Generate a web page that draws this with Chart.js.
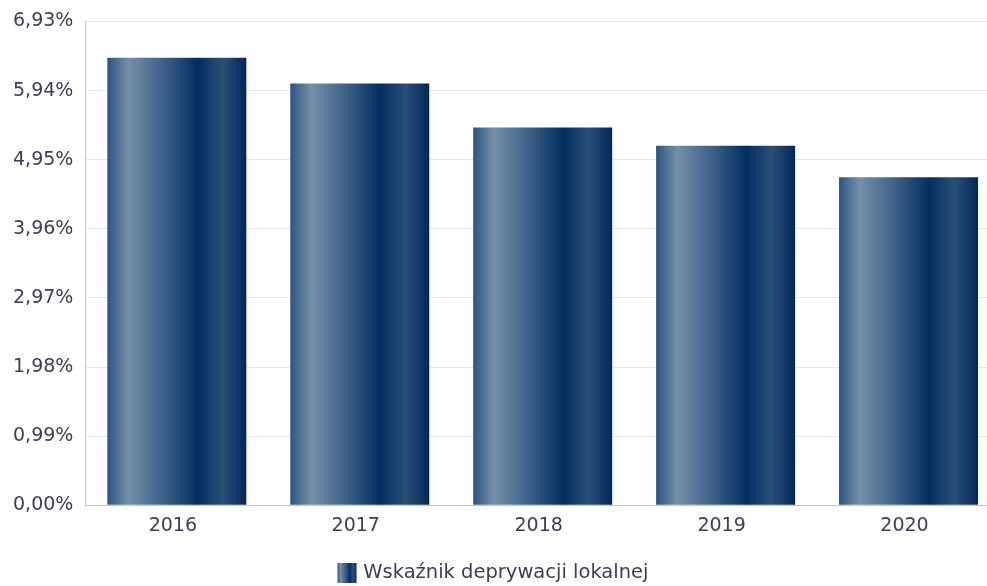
<!DOCTYPE html>
<html>
<head>
<meta charset="utf-8">
<script src="https://cdn.jsdelivr.net/npm/chart.js@4/dist/chart.umd.min.js"></script>
<style>
  html, body { margin: 0; padding: 0; background: #ffffff; overflow: hidden; }
  #wrap { width: 1000px; height: 586px; position: relative; }
</style>
</head>
<body>
<div id="wrap"><canvas id="c"></canvas></div>
<script>
const categories = ['2016', '2017', '2018', '2019', '2020'];
const seriesName = 'Wskaźnik deprywacji lokalnej';
const seriesValues = [6.41, 6.04, 5.41, 5.15, 4.70];
const yTicks = [0, 0.99, 1.98, 2.97, 3.96, 4.95, 5.94, 6.93];

const TEXT = '#3d3d56';
const FONT = 'DejaVu Sans';
const BAR_FRACTION = 0.76;

function makeGradient(c, x0, x1) {
  const g = c.createLinearGradient(x0, 0, x1, 0);
  g.addColorStop(0.00, '#2c5580');
  g.addColorStop(0.15, '#7590a8');
  g.addColorStop(0.40, '#3e6189');
  g.addColorStop(0.65, '#022f60');
  g.addColorStop(0.83, '#2a5077');
  g.addColorStop(1.00, '#03275a');
  return g;
}

function barColor(ctx) {
  const chart = ctx.chart;
  const xs = chart.scales.x;
  if (ctx.type !== 'data' || !xs || !chart.chartArea) return '#1f4a78';
  const center = xs.getPixelForValue(ctx.dataIndex);
  const w = xs.width / categories.length * BAR_FRACTION;
  return makeGradient(chart.ctx, center - w / 2, center + w / 2);
}

const legendShiftPlugin = {
  id: 'legendShift',
  afterLayout(chart) {
    const lg = chart.legend;
    if (!lg) return;
    const dx = -9, dy = 7;
    lg.left += dx; lg.right += dx;
    lg.top += dy; lg.bottom += dy;
  }
};

const BOX_SHIFT = 3;
const legendBoxPlugin = {
  id: 'legendBox',
  afterDraw(chart) {
    const lg = chart.legend;
    if (!lg || !lg.legendHitBoxes || !lg.legendHitBoxes.length) return;
    const hb = lg.legendHitBoxes[0];
    const opts = lg.options.labels;
    const bw = opts.boxWidth, bh = opts.boxHeight;
    const fs = opts.font.size;
    const top = hb.top + Math.max((fs - bh) / 2, 0);
    const x0 = hb.left + BOX_SHIFT;
    const c = chart.ctx;
    c.save();
    c.fillStyle = makeGradient(c, x0, x0 + bw);
    c.fillRect(x0, top, bw, bh);
    c.restore();
  }
};

new Chart(document.getElementById('c'), {
  type: 'bar',
  data: {
    labels: categories,
    datasets: [{
      label: seriesName,
      data: seriesValues,
      backgroundColor: barColor,
      borderWidth: 0,
      barPercentage: 1,
      categoryPercentage: BAR_FRACTION
    }]
  },
  options: {
    responsive: true,
    maintainAspectRatio: false,
    animation: false,
    layout: { padding: { left: 1, right: 0, top: 6, bottom: 0 } },
    scales: {
      x: {
        grid: { display: false, drawTicks: false },
        border: { display: true, color: '#c4c4d4', width: 1 },
        ticks: { color: TEXT, font: { family: FONT, size: 19 }, padding: 9, labelOffset: -4 }
      },
      y: {
        min: 0,
        max: 6.93,
        afterBuildTicks(scale) { scale.ticks = yTicks.map(v => ({ value: v })); },
        grid: { color: '#e6e6ee', lineWidth: 1, drawTicks: false },
        border: { display: true, color: '#c4c4d4', width: 1 },
        ticks: {
          color: TEXT,
          font: { family: FONT, size: 19, lineHeight: 1.0 },
          padding: 12,
          callback: v => v.toFixed(2).replace('.', ',') + '%'
        }
      }
    },
    plugins: {
      legend: {
        position: 'bottom',
        labels: {
          color: TEXT,
          font: { family: FONT, size: 19.5 },
          boxWidth: 19,
          boxHeight: 20,
          padding: 10,
          generateLabels(chart) {
            const items = Chart.defaults.plugins.legend.labels.generateLabels(chart);
            return items.map(it => Object.assign(it, {
              fillStyle: 'rgba(0,0,0,0)', strokeStyle: 'rgba(0,0,0,0)', lineWidth: 0
            }));
          }
        }
      },
      tooltip: { enabled: false }
    }
  },
  plugins: [legendShiftPlugin, legendBoxPlugin]
});
</script>
</body>
</html>
